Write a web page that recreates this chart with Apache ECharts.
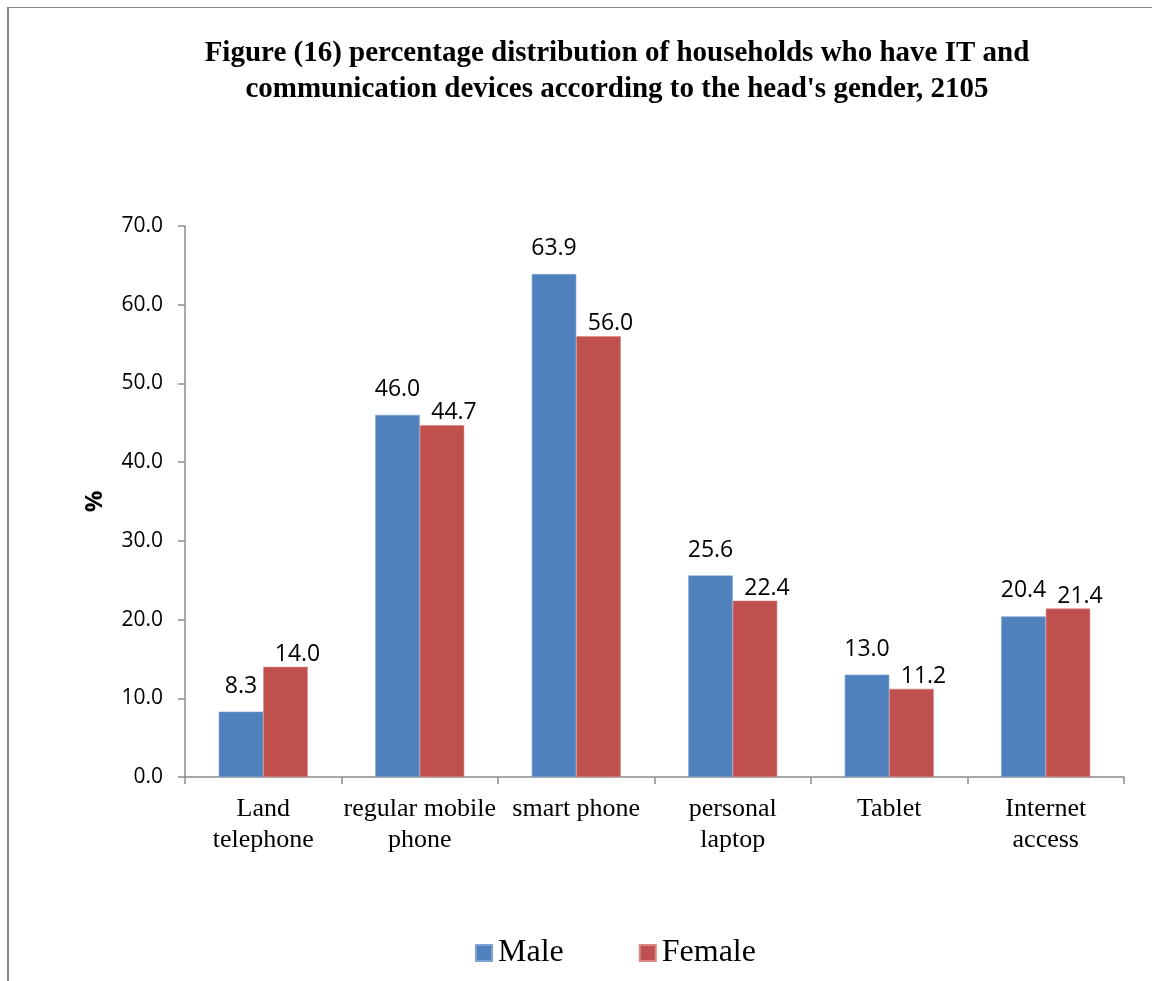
<!DOCTYPE html>
<html>
<head>
<meta charset="utf-8">
<style>
  html, body { margin: 0; padding: 0; background: #fff; }
  #chart { width: 1152px; height: 981px; }
</style>
<script src="https://cdn.jsdelivr.net/npm/echarts@6/dist/echarts.min.js"></script>
</head>
<body>
<div id="chart"></div>
<script>
const titleText = "Figure (16) percentage distribution of households who have IT and\ncommunication devices according to the head's gender, 2105";
const categories = ["Land\ntelephone", "regular mobile\nphone", "smart phone", "personal\nlaptop", "Tablet", "Internet\naccess"];
const maleValues = [8.3, 46.0, 63.9, 25.6, 13.0, 20.4];
const femaleValues = [14.0, 44.7, 56.0, 22.4, 11.2, 21.4];
const seriesNames = ["Male", "Female"];
const yAxisName = "%";

const chart = echarts.init(document.getElementById('chart'));
const axisGray = '#8c8c8c';
chart.setOption({
  backgroundColor: '#ffffff',
  animation: false,
  title: {
    text: titleText,
    left: 617,
    top: 36,
    padding: 0,
    textAlign: 'center',
    textStyle: {
      fontFamily: 'Liberation Serif',
      fontWeight: 'bold',
      fontSize: 29,
      lineHeight: 36,
      color: '#000'
    }
  },
  graphic: [
    { type: 'line', shape: { x1: 8, y1: 7.5, x2: 1152, y2: 7.5 }, style: { stroke: '#888', lineWidth: 1 }, silent: true },
    { type: 'line', shape: { x1: 8, y1: 7, x2: 8, y2: 981 }, style: { stroke: '#888', lineWidth: 2 }, silent: true }
  ],
  legend: {
    data: seriesNames,
    left: 475,
    top: 937,
    padding: 0,
    itemWidth: 16,
    itemHeight: 16,
    itemGap: 75,
    icon: 'rect',
    textStyle: { fontFamily: 'Liberation Serif', fontSize: 32, color: '#000', padding: [0, 0, 0, 1] }
  },
  grid: { left: 185, right: 28, top: 226, bottom: 204, containLabel: false },
  xAxis: {
    type: 'category',
    data: categories,
    axisLine: { show: true, lineStyle: { color: axisGray, width: 1.5 } },
    axisTick: { show: true, length: 7, lineStyle: { color: axisGray, width: 1.5 } },
    axisLabel: {
      interval: 0,
      margin: 17,
      fontFamily: 'Liberation Serif',
      fontSize: 26,
      lineHeight: 31,
      color: '#000'
    },
    splitLine: { show: false }
  },
  yAxis: {
    type: 'value',
    min: 0,
    max: 70,
    interval: 10,
    name: yAxisName,
    nameLocation: 'middle',
    nameGap: 78,
    nameRotate: 90,
    nameTextStyle: { fontFamily: 'Open Sans', fontWeight: 'bold', fontSize: 24, color: '#000' },
    axisLine: { show: true, lineStyle: { color: axisGray, width: 1.5 } },
    axisTick: { show: true, length: 7, lineStyle: { color: axisGray, width: 1.5 } },
    axisLabel: {
      margin: 22,
      fontFamily: 'Open Sans',
      fontSize: 21,
      color: '#000',
      formatter: v => v.toFixed(1)
    },
    splitLine: { show: false }
  },
  series: [
    {
      name: seriesNames[0],
      type: 'bar',
      data: maleValues,
      barWidth: 44.5,
      barGap: '0%',
      itemStyle: { color: '#4F81BD', borderColor: '#7fa2d2', borderWidth: 0.6 },
      label: {
        show: true,
        position: 'top',
        distance: 14,
        fontFamily: 'Open Sans',
        fontSize: 23,
        color: '#000',
        formatter: p => p.value.toFixed(1)
      }
    },
    {
      name: seriesNames[1],
      type: 'bar',
      data: femaleValues,
      barWidth: 44.5,
      barGap: '0%',
      itemStyle: { color: '#C0504D', borderColor: '#d88583', borderWidth: 0.6 },
      label: {
        show: true,
        position: 'top',
        distance: 14,
        offset: [12, 13],
        fontFamily: 'Open Sans',
        fontSize: 23,
        color: '#000',
        formatter: p => p.value.toFixed(1)
      }
    }
  ]
});
</script>
</body>
</html>
